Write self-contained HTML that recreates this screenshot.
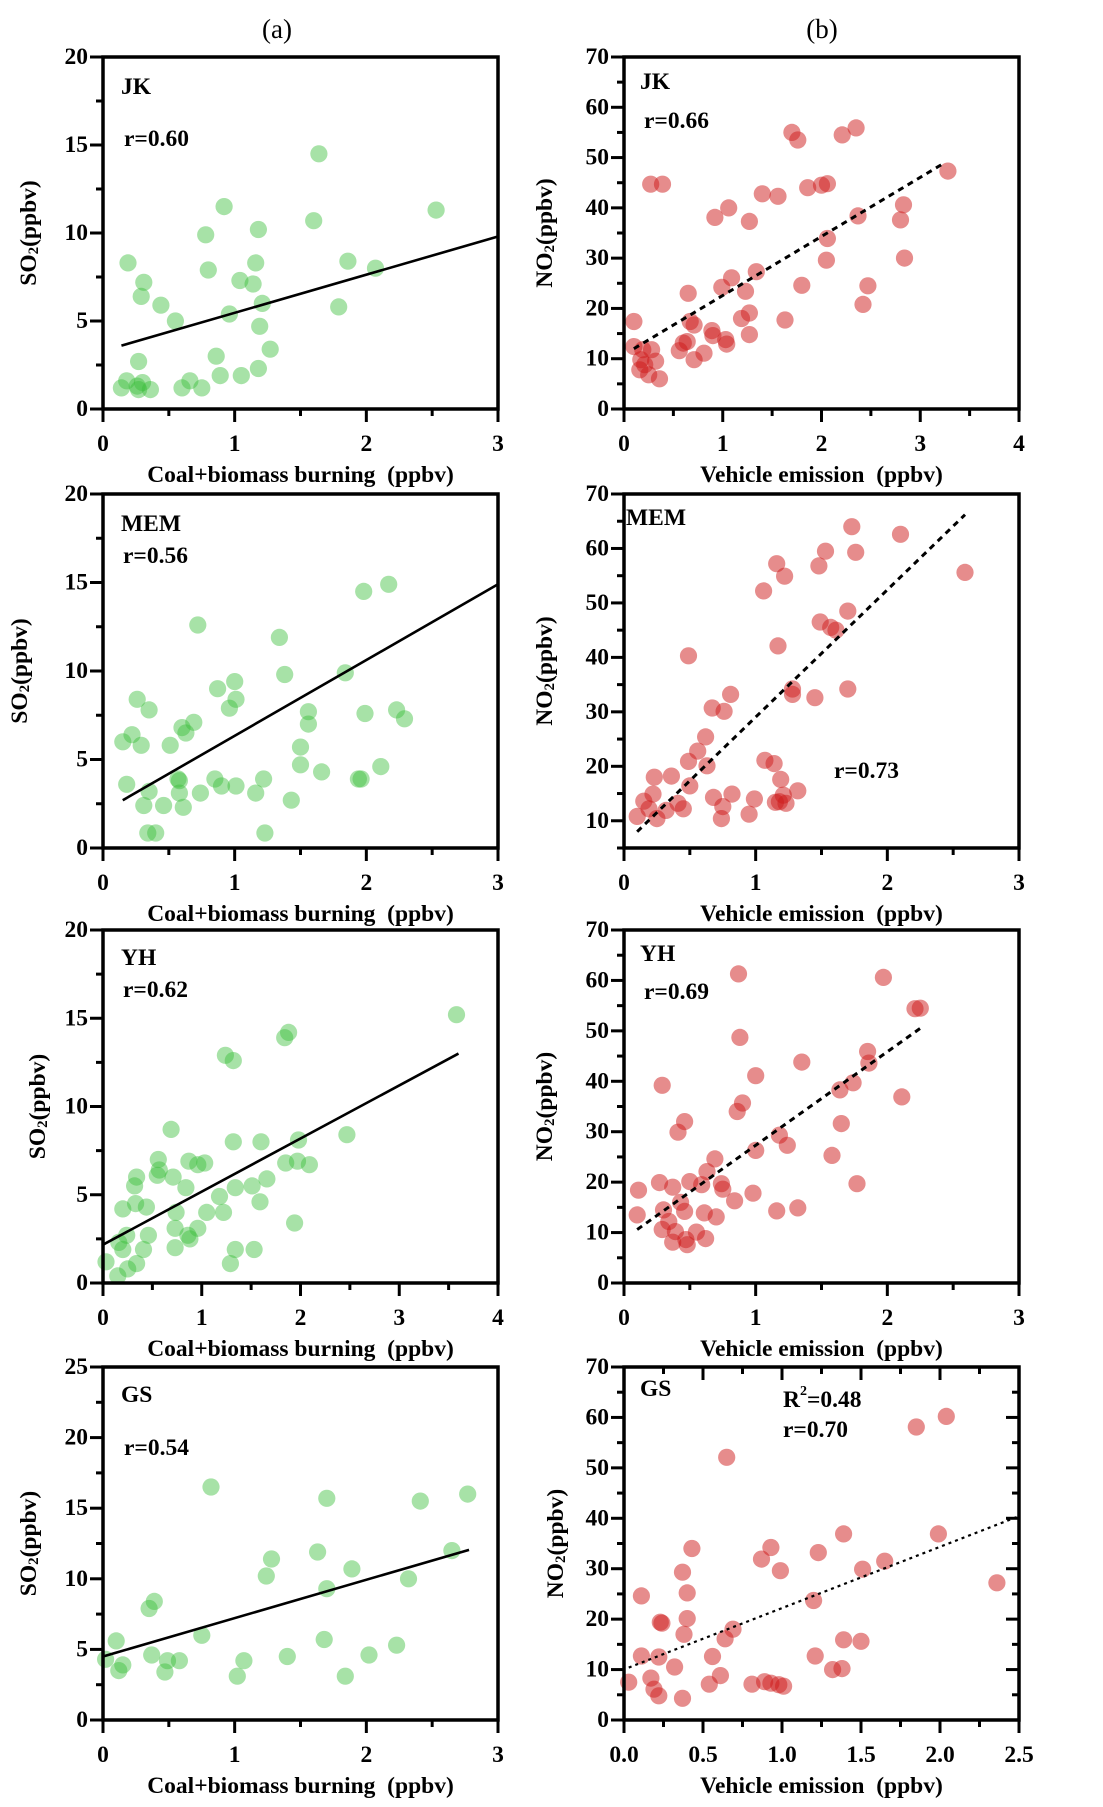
<!DOCTYPE html>
<html><head><meta charset="utf-8"><style>
html,body{margin:0;padding:0;background:#fff;}
svg{display:block;font-family:"Liberation Serif",serif;}
</style></head><body>
<svg id="chart" width="1103" height="1807" viewBox="0 0 1103 1807" xmlns="http://www.w3.org/2000/svg">
<text x="277" y="38" font-size="27" text-anchor="middle">(a)</text>
<text x="822" y="38" font-size="27" text-anchor="middle">(b)</text>
</svg>
<script>
// ---- data ----
const jkCoalX=[.19,1.64,.92,2.53,1.60,.78,1.18,1.16,.80,1.86,2.07,.31,1.04,1.14,.29,.44,1.21,.96,1.79,.55,1.19,1.27,.86,.27,.89,1.05,1.18,.66,.60,.75,.14,.18,.26,.30,.36,.27];
const jkSO2=[8.3,14.5,11.5,11.3,10.7,9.9,10.2,8.3,7.9,8.4,8.0,7.2,7.3,7.1,6.4,5.9,6.0,5.4,5.8,5.0,4.7,3.4,3.0,2.7,1.9,1.9,2.3,1.6,1.2,1.2,1.2,1.6,1.3,1.5,1.1,1.1];
const jkFit=[0.14,3.6,3.0,9.8];
const jkVehX=[.10,.27,.39,1.70,1.76,2.21,2.35,3.28,.92,1.06,1.27,1.40,1.56,1.86,2.0,2.06,2.37,2.83,2.80,2.06,2.05,2.84,1.34,1.09,.99,1.23,.65,1.80,2.47,2.42,1.27,1.19,1.63,.71,.67,.89,.90,1.27,1.03,1.04,.64,.60,.56,.81,.71,.10,.19,.28,.32,.17,.16,.25,.36,.21];
const jkNO2=[17.4,44.7,44.7,55,53.5,54.5,55.9,47.3,38.1,40,37.3,42.8,42.3,44,44.5,44.8,38.4,40.6,37.6,33.9,29.6,30,27.3,26.1,24.2,23.4,23,24.6,24.5,20.8,19.1,18,17.7,16.7,17.4,15.6,14.6,14.8,13.8,12.9,13.4,13.1,11.6,11.1,9.8,12.4,11.8,11.8,9.5,9.8,7.8,6.8,6.0,8.8];
const jkFitB=[0.10,12,3.25,49];

const memCoalX=[.72,1.34,1.98,2.17,1.38,1.84,1.0,.87,1.01,.96,.26,.35,1.56,1.56,1.99,2.23,2.29,.69,.60,.63,.22,.15,.29,.51,1.50,1.50,1.66,2.11,1.94,1.96,.18,.57,.58,.35,.85,.90,1.01,1.22,1.16,.74,.58,.61,.31,.46,1.43,.34,.40,1.23];
const memSO2=[12.6,11.9,14.5,14.9,9.8,9.9,9.4,9.0,8.4,7.9,8.4,7.8,7.7,7.0,7.6,7.8,7.3,7.1,6.8,6.5,6.4,6.0,5.8,5.8,5.7,4.7,4.3,4.6,3.9,3.9,3.6,3.9,3.8,3.2,3.9,3.5,3.5,3.9,3.1,3.1,3.1,2.3,2.4,2.4,2.7,.85,.85,.85];
const memFit=[0.15,2.7,3.0,14.9];
const memVehX=[1.73,2.10,1.53,1.76,1.16,1.22,1.48,2.59,1.06,1.70,1.49,1.57,1.61,1.17,.49,1.28,1.28,1.70,1.45,.81,.67,.76,.62,.56,.49,.63,1.07,1.14,1.19,1.32,1.21,1.18,1.15,1.23,.23,.36,.50,.22,.15,.19,.32,.41,.45,.10,.25,.68,.82,.99,.75,.74,.95];
const memNO2=[64.0,62.6,59.5,59.3,57.2,54.9,56.8,55.6,52.2,48.5,46.5,45.5,45.0,42.1,40.3,34.2,33.2,34.2,32.6,33.2,30.7,30.1,25.4,22.8,20.9,20.1,21.1,20.5,17.6,15.5,14.7,13.5,13.4,13.2,18.0,18.2,16.4,14.9,13.6,12.2,11.9,13.2,12.2,10.8,10.4,14.3,14.9,14.0,12.6,10.4,11.2];
const memFitB=[0.10,8.0,2.59,66.2];

const yhCoalX=[3.58,1.88,1.84,1.24,1.32,.69,2.47,1.32,1.60,1.98,.56,.87,1.03,.96,1.85,1.97,2.09,.57,.55,.71,.34,.32,.84,1.34,1.51,1.66,1.18,1.59,.33,.44,.20,.74,1.05,1.22,1.94,.73,.96,.86,.88,.46,.24,.16,.20,.41,.73,1.34,1.53,1.29,.34,.25,.03,.15];
const yhSO2=[15.2,14.2,13.9,12.9,12.6,8.7,8.4,8.0,8.0,8.1,7.0,6.9,6.8,6.7,6.8,6.9,6.7,6.4,6.1,6.0,6.0,5.5,5.4,5.4,5.5,5.9,4.9,4.6,4.5,4.3,4.2,4.0,4.0,4.0,3.4,3.1,3.1,2.7,2.5,2.7,2.7,2.3,1.9,1.9,2.0,1.9,1.9,1.1,1.1,.8,1.2,.4];
const yhFit=[0,2.17,3.6,13.0];
const yhVehX=[.87,1.97,2.21,2.25,.88,1.85,1.86,1.35,1.0,1.74,1.64,.29,2.11,.90,.86,.46,.41,1.65,1.18,1.24,1.00,1.58,.69,.63,.50,.59,.74,.75,.27,.37,1.77,.11,.84,.98,1.16,1.32,.10,.30,.43,.46,.61,.70,.34,.29,.39,.47,.37,.48,.55,.62];
const yhNO2=[61.3,60.6,54.4,54.5,48.7,45.9,43.6,43.8,41.1,39.7,38.3,39.2,36.9,35.7,34.0,32.0,29.9,31.6,29.3,27.3,26.3,25.3,24.6,22.1,20.1,19.5,19.7,18.6,19.9,19.0,19.7,18.4,16.3,17.8,14.3,14.9,13.5,14.5,16.0,14.2,13.9,13.1,12.2,10.6,10.2,8.6,8.1,7.6,10.1,8.8];
const yhFitB=[0.10,10.6,2.25,50.5];

const gsCoalX=[.82,1.70,2.41,2.77,2.65,1.63,1.28,1.89,1.24,2.32,1.70,.39,.35,.75,.10,1.68,2.23,.37,2.02,.49,.58,1.07,1.40,.02,.15,.12,.47,1.02,1.84];
const gsSO2=[16.5,15.7,15.5,16.0,12.0,11.9,11.4,10.7,10.2,10.0,9.3,8.4,7.9,6.0,5.6,5.7,5.3,4.6,4.6,4.2,4.2,4.2,4.5,4.3,3.9,3.5,3.4,3.1,3.1];
const gsFit=[0,4.5,2.78,12.05];
const gsVehX=[2.04,1.85,.65,1.39,1.99,1.23,.93,.87,.99,1.51,1.65,.43,.37,.40,2.36,.11,1.20,.40,.23,.24,.38,.69,.64,1.39,1.50,.11,.22,.56,1.21,.32,1.32,1.38,.17,.61,.03,.19,.22,.37,.54,.81,.89,.93,.98,1.01];
const gsNO2=[60.2,58.1,52.1,36.9,36.9,33.2,34.2,31.9,29.6,29.9,31.5,34.0,29.3,25.2,27.2,24.6,23.7,20.1,19.4,19.2,17.0,18.0,16.1,15.9,15.6,12.7,12.5,12.6,12.7,10.5,10.0,10.2,8.3,8.8,7.5,6.1,4.8,4.3,7.1,7.1,7.6,7.3,7.0,6.7];
const gsFitB=[0.03,10.4,2.49,40.3];

// x tick labels
const xTicks3=["0","1","2","3"];
const xTicks4=["0","1","2","3","4"];
const xTicksGS=["0.0","0.5","1.0","1.5","2.0","2.5"];

// ---- rendering ----
const NS="http://www.w3.org/2000/svg";
const svg=document.getElementById('chart');
function mk(tag,attrs,parent){const e=document.createElementNS(NS,tag);for(const k in attrs)e.setAttribute(k,attrs[k]);(parent||svg).appendChild(e);return e;}

const LEFT=[103,498], RIGHT=[624,1019];
const ROWS=[[57,409],[494,848],[930,1283],[1367,1720]];
const FS=23.5;

const panels=[
 {id:'jk-a',col:LEFT,row:0,xd:[0,3],xmaj:1,xmin:.5,xl:xTicks3,yd:[0,20],ymaj:5,ymin:2.5,yl0:0,px:jkCoalX,py:jkSO2,fit:jkFit,dash:null,green:true,site:'JK',sitePos:[121,87],r:'r=0.60',rPos:[124,139],yTitle:'SO',ytx:29,xTitle:'Coal+biomass burning\u00a0\u00a0(ppbv)'},
 {id:'jk-b',col:RIGHT,row:0,xd:[0,4],xmaj:1,xmin:.5,xl:xTicks4,yd:[0,70],ymaj:10,ymin:5,yl0:0,px:jkVehX,py:jkNO2,fit:jkFitB,dash:'6,5',green:false,site:'JK',sitePos:[640,82],r:'r=0.66',rPos:[644,121],yTitle:'NO',ytx:545,xTitle:'Vehicle emission\u00a0\u00a0(ppbv)'},
 {id:'mem-a',col:LEFT,row:1,xd:[0,3],xmaj:1,xmin:.5,xl:xTicks3,yd:[0,20],ymaj:5,ymin:2.5,yl0:0,px:memCoalX,py:memSO2,fit:memFit,dash:null,green:true,site:'MEM',sitePos:[121,524],r:'r=0.56',rPos:[123,556],yTitle:'SO',ytx:20,xTitle:'Coal+biomass burning\u00a0\u00a0(ppbv)'},
 {id:'mem-b',col:RIGHT,row:1,xd:[0,3],xmaj:1,xmin:.5,xl:xTicks3,yd:[5,70],ymaj:10,ymin:5,yl0:10,px:memVehX,py:memNO2,fit:memFitB,dash:'6,5',green:false,site:'MEM',sitePos:[626,518],r:'r=0.73',rPos:[834,771],yTitle:'NO',ytx:545,xTitle:'Vehicle emission\u00a0\u00a0(ppbv)'},
 {id:'yh-a',col:LEFT,row:2,xd:[0,4],xmaj:1,xmin:.5,xl:xTicks4,yd:[0,20],ymaj:5,ymin:2.5,yl0:0,px:yhCoalX,py:yhSO2,fit:yhFit,dash:null,green:true,site:'YH',sitePos:[121,958],r:'r=0.62',rPos:[123,990],yTitle:'SO',ytx:38,xTitle:'Coal+biomass burning\u00a0\u00a0(ppbv)'},
 {id:'yh-b',col:RIGHT,row:2,xd:[0,3],xmaj:1,xmin:.5,xl:xTicks3,yd:[0,70],ymaj:10,ymin:5,yl0:0,px:yhVehX,py:yhNO2,fit:yhFitB,dash:'6,5',green:false,site:'YH',sitePos:[640,954],r:'r=0.69',rPos:[644,992],yTitle:'NO',ytx:545,xTitle:'Vehicle emission\u00a0\u00a0(ppbv)'},
 {id:'gs-a',col:LEFT,row:3,xd:[0,3],xmaj:1,xmin:.5,xl:xTicks3,yd:[0,25],ymaj:5,ymin:2.5,yl0:0,px:gsCoalX,py:gsSO2,fit:gsFit,dash:null,green:true,site:'GS',sitePos:[121,1395],r:'r=0.54',rPos:[124,1448],yTitle:'SO',ytx:29,xTitle:'Coal+biomass burning\u00a0\u00a0(ppbv)'},
 {id:'gs-b',col:RIGHT,row:3,xd:[0,2.5],xmaj:.5,xmin:.25,xl:xTicksGS,yd:[0,70],ymaj:10,ymin:5,yl0:0,px:gsVehX,py:gsNO2,fit:gsFitB,dash:'3,4',green:false,mirror:true,site:'GS',sitePos:[640,1389],r:'r=0.70',rPos:[783,1430],r2:true,yTitle:'NO',ytx:556,xTitle:'Vehicle emission\u00a0\u00a0(ppbv)'}
];

panels.forEach(p=>{
  const [x0,x1]=p.col,[y0,y1]=ROWS[p.row];
  const sx=v=>x0+(v-p.xd[0])/(p.xd[1]-p.xd[0])*(x1-x0);
  const sy=v=>y1-(v-p.yd[0])/(p.yd[1]-p.yd[0])*(y1-y0);
  const g=mk('g',{});
  
  
  const pg=mk('g',{},g);
  
  
  p.px.forEach((xv,i)=>{
    const c=mk('circle',{cx:sx(xv).toFixed(1),cy:sy(p.py[i]).toFixed(1),r:8.6,fill:p.green?'rgb(60,190,60)':'rgb(205,25,25)','fill-opacity':p.green?0.45:0.5},pg);
    
    
  });
  const f=p.fit;
  const ln=mk('line',{x1:sx(f[0]),y1:sy(f[1]),x2:sx(f[2]),y2:sy(f[3]),stroke:'#000','stroke-width':p.dash?3:2.6},g);
  if(p.dash)ln.setAttribute('stroke-dasharray',p.dash);
  if(p.id==='gs-b')ln.setAttribute('stroke-width',2.2);
  
  
  const fr=mk('rect',{x:x0,y:y0,width:x1-x0,height:y1-y0,fill:'none',stroke:'#000','stroke-width':3.5},g);
  
  
  const ax=mk('g',{},g);
  
  
  const eps=1e-6;
  for(let v=Math.ceil(p.yd[0]/p.ymin)*p.ymin; v<=p.yd[1]+eps; v+=p.ymin){
    const isMaj=Math.abs(v/p.ymaj-Math.round(v/p.ymaj))<eps;
    const y=sy(v), L=isMaj?13:7;
    mk('line',{x1:x0-L,y1:y,x2:x0,y2:y,stroke:'#000','stroke-width':3},ax);
    if(p.mirror)mk('line',{x1:x1-L,y1:y,x2:x1,y2:y,stroke:'#000','stroke-width':3},ax);
    if(isMaj && v>=p.yl0-eps){
      const t=mk('text',{x:x0-15,y:y,'font-size':FS,'font-weight':'bold','text-anchor':'end','dominant-baseline':'central'},ax);
      t.textContent=String(Math.round(v));
      
      
    }
  }
  const xa=mk('g',{},g);
  
  
  let li=0;
  for(let v=p.xd[0]; v<=p.xd[1]+eps; v+=p.xmin){
    const isMaj=Math.abs(v/p.xmaj-Math.round(v/p.xmaj))<eps;
    const x=sx(v), L=isMaj?13:7;
    mk('line',{x1:x,y1:y1,x2:x,y2:y1+L,stroke:'#000','stroke-width':3},xa);
    if(p.mirror)mk('line',{x1:x,y1:y0,x2:x,y2:y0+L,stroke:'#000','stroke-width':3},xa);
    if(isMaj){
      const t=mk('text',{x:x,y:y1+35,'font-size':FS,'font-weight':'bold','text-anchor':'middle','dominant-baseline':'central'},xa);
      t.textContent=p.xl[li++];
      
      
    }
  }
  const xt=mk('text',{x:(x0+x1)/2,y:y1+66,'font-size':FS,'font-weight':'bold','text-anchor':'middle','dominant-baseline':'central'},g);
  xt.textContent=p.xTitle;
  
  
  const cy=(y0+y1)/2;
  const yt=mk('text',{x:p.ytx,y:cy,'font-size':FS,'font-weight':'bold','text-anchor':'middle','dominant-baseline':'central',transform:`rotate(-90 ${p.ytx} ${cy})`},g);
  
  
  const s1=mk('tspan',{},yt);s1.textContent=p.yTitle;
  const s2=mk('tspan',{'font-size':15,dy:5},yt);s2.textContent='2';
  const s3=mk('tspan',{dy:-5},yt);s3.textContent='(ppbv)';
  const st=mk('text',{x:p.sitePos[0],y:p.sitePos[1],'font-size':FS,'font-weight':'bold','dominant-baseline':'central'},g);
  st.textContent=p.site;
  
  
  if(p.r2){
    const rt=mk('text',{x:p.rPos[0],y:1400,'font-size':FS,'font-weight':'bold','dominant-baseline':'central'},g);
    
    
    const a=mk('tspan',{},rt);a.textContent='R';
    const b=mk('tspan',{'font-size':14,dy:-9},rt);b.textContent='2';
    const c=mk('tspan',{dy:9},rt);c.textContent='=0.48';
  }
  const rt=mk('text',{x:p.rPos[0],y:p.rPos[1],'font-size':FS,'font-weight':'bold','dominant-baseline':'central'},g);
  rt.textContent=p.r;
  
  
});
</script>
</body></html>
